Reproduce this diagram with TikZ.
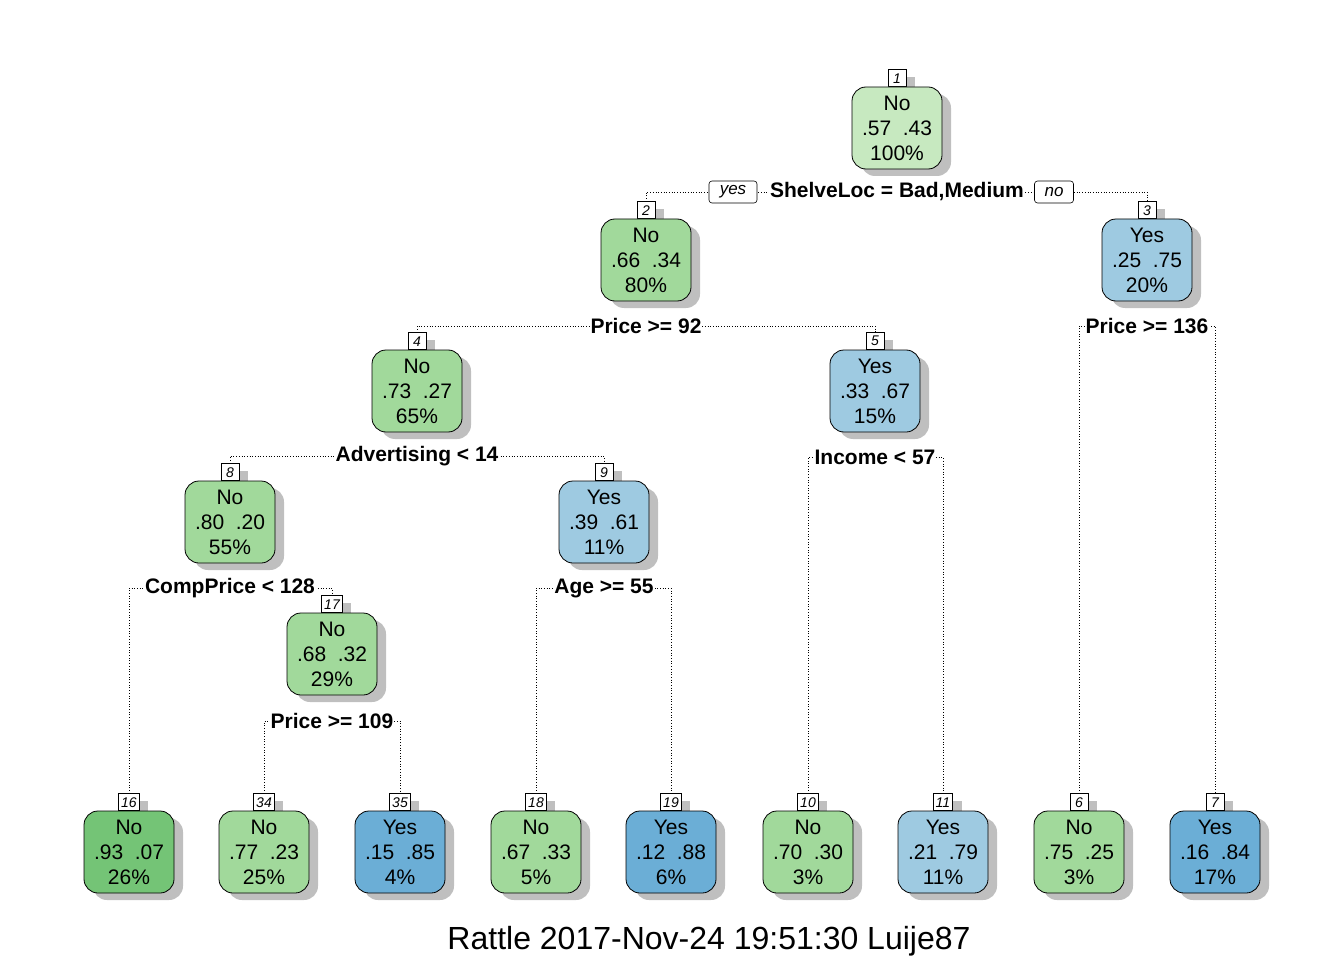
\documentclass[tikz,border=0pt]{standalone}
\usepackage{fontspec}
\setmainfont{Liberation Sans}
\usetikzlibrary{shadows}
\definecolor{gA}{HTML}{C7E9C0}
\definecolor{gB}{HTML}{A1D99B}
\definecolor{gC}{HTML}{74C476}
\definecolor{bA}{HTML}{9ECAE1}
\definecolor{bB}{HTML}{6BAED6}
\pgfdeclarelayer{bg}\pgfsetlayers{bg,main}
\newcommand\mytnode[8]{%
  \node[numbox] (#1n) at (#2,#3-41) {#8};
  \node[tbox, fill=#4] (#1) at (#2,#3) {#5\\#6\\#7};
}
\begin{document}
\begin{tikzpicture}[x=1pt,y=-1pt,
  tbox/.style={draw=black, line width=0.8pt, rounded corners=14pt,
    minimum width=90pt, minimum height=82pt, inner sep=0pt, align=center,
    text depth=-3pt,
    font=\fontsize{21}{25}\selectfont,
    drop shadow={shadow xshift=9pt, shadow yshift=-7pt, fill=black!25, opacity=1}},
  numbox/.style={draw=black, fill=white, line width=0.6pt, minimum width=18pt,
    minimum height=17pt, inner xsep=2.5pt, inner ysep=0pt, anchor=south,
    font=\fontsize{14}{14}\selectfont\itshape,
    drop shadow={shadow xshift=9pt, shadow yshift=-7pt, fill=black!25, opacity=1}},
  split/.style={font=\fontsize{21}{21}\selectfont\bfseries, fill=white,
    inner xsep=1pt, inner ysep=3pt},
  yn/.style={draw=black, fill=white, line width=0.6pt, rounded corners=3pt,
    font=\fontsize{17}{17}\selectfont\itshape, minimum height=22pt, inner xsep=0pt},
  conn/.style={dotted, line width=0.7pt},
  caption/.style={font=\fontsize{32}{32}\selectfont}]
\useasboundingbox (0,0) rectangle (1344,960);

% tree nodes
\mytnode{n1}{897}{128}{gA}{No}{.57\hspace{0.55em}.43}{100\%}{1}
\mytnode{n2}{646}{260}{gB}{No}{.66\hspace{0.55em}.34}{80\%}{2}
\mytnode{n3}{1147}{260}{bA}{Yes}{.25\hspace{0.55em}.75}{20\%}{3}
\mytnode{n4}{417}{391}{gB}{No}{.73\hspace{0.55em}.27}{65\%}{4}
\mytnode{n5}{875}{391}{bA}{Yes}{.33\hspace{0.55em}.67}{15\%}{5}
\mytnode{n8}{230}{522}{gB}{No}{.80\hspace{0.55em}.20}{55\%}{8}
\mytnode{n9}{604}{522}{bA}{Yes}{.39\hspace{0.55em}.61}{11\%}{9}
\mytnode{n17}{332}{654}{gB}{No}{.68\hspace{0.55em}.32}{29\%}{17}
\mytnode{n16}{129}{852}{gC}{No}{.93\hspace{0.55em}.07}{26\%}{16}
\mytnode{n34}{264}{852}{gB}{No}{.77\hspace{0.55em}.23}{25\%}{34}
\mytnode{n35}{400}{852}{bB}{Yes}{.15\hspace{0.55em}.85}{4\%}{35}
\mytnode{n18}{536}{852}{gB}{No}{.67\hspace{0.55em}.33}{5\%}{18}
\mytnode{n19}{671}{852}{bB}{Yes}{.12\hspace{0.55em}.88}{6\%}{19}
\mytnode{n10}{808}{852}{gB}{No}{.70\hspace{0.55em}.30}{3\%}{10}
\mytnode{n11}{943}{852}{bA}{Yes}{.21\hspace{0.55em}.79}{11\%}{11}
\mytnode{n6}{1079}{852}{gB}{No}{.75\hspace{0.55em}.25}{3\%}{6}
\mytnode{n7}{1215}{852}{bB}{Yes}{.16\hspace{0.55em}.84}{17\%}{7}

% split labels
\node[split] (s1) at (897,192) {ShelveLoc = Bad,Medium};
\node[split] (s2) at (646,326) {Price >= 92};
\node[split] (s3) at (1147,326) {Price >= 136};
\node[split] (s4) at (417,456) {Advertising < 14};
\node[split] (s5) at (875,457) {Income < 57};
\node[split] (s8) at (230,588) {CompPrice < 128};
\node[split] (s9) at (604,588) {Age >= 55};
\node[split] (s17) at (332,721) {Price >= 109};

\node[yn, minimum width=48pt] (yes) at (733,192) {yes};
\node[yn, minimum width=39pt] (no) at (1054,192) {no};

\node[caption] (cap) at (709,941) {Rattle 2017-Nov-24 19:51:30 Luije87};

\begin{pgfonlayer}{bg}
\draw[conn] (n2n.north) |- (s1.center) -| (n3n.north);
\draw[conn] (n4n.north) |- (s2.center) -| (n5n.north);
\draw[conn] (n6n.north) |- (s3.center) -| (n7n.north);
\draw[conn] (n8n.north) |- (s4.center) -| (n9n.north);
\draw[conn] (n10n.north) |- (s5.center) -| (n11n.north);
\draw[conn] (n16n.north) |- (s8.center) -| (n17n.north);
\draw[conn] (n18n.north) |- (s9.center) -| (n19n.north);
\draw[conn] (n34n.north) |- (s17.center) -| (n35n.north);
\end{pgfonlayer}
\end{tikzpicture}
\end{document}
